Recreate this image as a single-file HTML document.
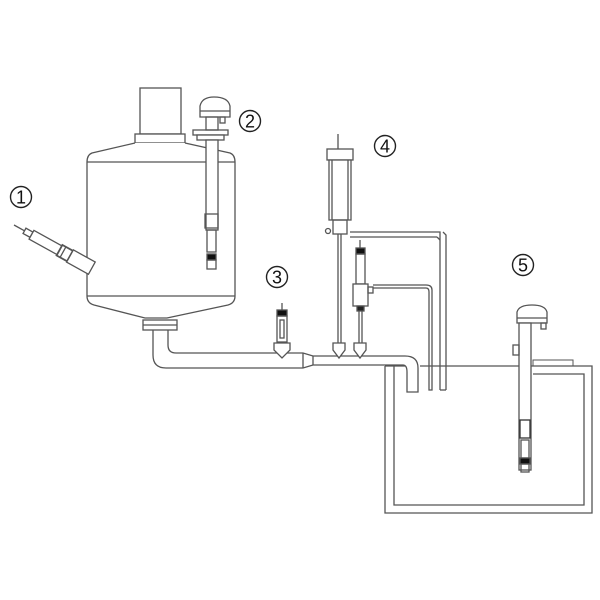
<!DOCTYPE html>
<html><head><style>body{margin:0;background:#fff}svg{display:block}text{font-family:"Liberation Sans","DejaVu Sans",sans-serif;font-size:18px;fill:#111;stroke:none}</style></head><body>
<svg width="600" height="600" viewBox="0 0 600 600" xmlns="http://www.w3.org/2000/svg" fill="none" stroke="#555" stroke-width="1.3">
<!-- tank -->
<rect x="140" y="88" width="41" height="46" fill="#fff"/>
<rect x="135" y="134" width="50" height="9" fill="#fff"/>
<path d="M135 143 L92 153 Q87 155 87 162 L87 296 Q87 303 94 305 L145 318 L167 318 L228 305 Q235 303 235 296 L235 162 Q235 155 230 153 L185 143" fill="#fff"/>
<line x1="87" y1="162" x2="235" y2="162"/><line x1="87" y1="296" x2="235" y2="296"/>
<rect x="143" y="320" width="34" height="10"/><line x1="143" y1="325" x2="177" y2="325"/>
<!-- pipe -->
<path d="M153 330 L153 355 Q153 368 166 368 L303 368 L313 365 L403 365 Q407 365 407 372 L407 392 L418 392 L418 368 Q418 356 405 356 L313 356 L303 353 L176 353 Q168 353 168 345 L168 330"/>
<line x1="303" y1="353" x2="303" y2="368"/><line x1="313" y1="356" x2="313" y2="365"/>
<!-- sensor 3 -->
<line x1="282" y1="303" x2="282" y2="310"/>
<rect x="277" y="310" width="10" height="6" fill="#111"/>
<rect x="277" y="316" width="10" height="26"/><rect x="280" y="320" width="4" height="18"/>
<path d="M274 343 L290 343 L290 350 L282 358 L274 350 Z" fill="#fff"/>
<!-- sensor at 338 (item 4) -->
<line x1="338" y1="134" x2="338" y2="149"/>
<rect x="327" y="149" width="26" height="11" fill="#fff"/>
<rect x="329" y="160" width="22" height="60" fill="#fff"/>
<line x1="332" y1="160" x2="332" y2="220"/><line x1="348" y1="160" x2="348" y2="220"/>
<rect x="333" y="220" width="14" height="14"/>
<circle cx="328" cy="231" r="2.5"/>
<line x1="338" y1="234" x2="338" y2="343"/><line x1="341" y1="234" x2="341" y2="343"/>
<path d="M333 343 L345 343 L345 350 L339 358 L333 350 Z" fill="#fff"/>
<path d="M350 232 L440 232 L440 390 M350 237 L437 237"/>
<path d="M443 232 L446 235 L446 390 M437 237 L440 240"/>
<line x1="440" y1="390" x2="446" y2="390"/>
<!-- sensor at 360 -->
<line x1="360" y1="240" x2="360" y2="248"/>
<rect x="356" y="248" width="9" height="6" fill="#111"/>
<rect x="356" y="254" width="9" height="30"/>
<rect x="353" y="284" width="15" height="22" fill="#fff"/>
<rect x="368" y="287" width="5" height="6"/>
<rect x="357" y="306" width="7" height="5" fill="#222"/>
<line x1="359" y1="311" x2="359" y2="343"/><line x1="362" y1="311" x2="362" y2="343"/>
<path d="M354 343 L366 343 L366 350 L360 358 L354 350 Z" fill="#fff"/>
<path d="M373 288 L426 288 Q429 288 429 292 L429 390 L432 390 L432 290 Q432 285 426 285 L373 285"/>
<!-- open tank -->
<path d="M385 366 L385 513 L592 513 L592 366 L533 366"/>
<path d="M394 366 L394 505 L584 505 L584 374 L533 374"/>
<line x1="385" y1="366" x2="405" y2="366"/><line x1="420" y1="366" x2="533" y2="366"/>
<rect x="533" y="360" width="40" height="6" stroke-width="1"/>
<!-- sensor 5 -->
<path d="M517 323 L517 312 Q519 305 532 305 Q545 305 547 312 L547 323 Z" fill="#fff"/>
<line x1="517" y1="318" x2="547" y2="318"/>
<rect x="541" y="323" width="5" height="6"/>
<rect x="519" y="323" width="12" height="147" fill="#fff"/>
<rect x="513" y="345" width="6" height="10"/>
<rect x="520" y="420" width="10" height="18" stroke="#333"/>
<rect x="521" y="440" width="8" height="18"/>
<rect x="520" y="458" width="10" height="6" fill="#111"/>
<rect x="521" y="464" width="8" height="8"/>
<!-- sensor 2 -->
<path d="M200 117 L200 106 Q202 97 214 97 Q228 97 230 106 L230 117 Z" fill="#fff"/>
<line x1="200" y1="111" x2="230" y2="111"/>
<rect x="220" y="117" width="5" height="6"/>
<rect x="193" y="130" width="35" height="5" fill="#fff"/><rect x="197" y="135" width="27" height="5" fill="#fff"/>
<rect x="206" y="117" width="12" height="13"/>
<rect x="206" y="140" width="12" height="90" fill="#fff"/>
<rect x="205" y="214" width="13" height="14"/>
<rect x="207" y="230" width="9" height="22"/>
<rect x="207" y="254" width="9" height="6" fill="#111"/>
<rect x="207" y="260" width="9" height="9"/>
<!-- probe 1 -->
<g transform="translate(14,225) rotate(29)">
<line x1="0" y1="0" x2="12" y2="0"/>
<rect x="12" y="-3" width="8" height="6"/>
<rect x="20" y="-5" width="32" height="10" fill="#fff"/>
<rect x="52" y="-6" width="12" height="12" fill="#fff" stroke-width="1.8"/>
<line x1="56" y1="-6" x2="56" y2="6"/>
<rect x="64" y="-7" width="25" height="14" fill="#fff"/>
</g>
<!-- labels -->
<g stroke="#222" stroke-width="1.4">
<circle cx="21" cy="197" r="10.5"/><circle cx="250" cy="121" r="10.5"/><circle cx="277" cy="277" r="10.5"/><circle cx="385" cy="146" r="10.5"/><circle cx="523" cy="265" r="10.5"/>
</g>
<g text-anchor="middle">
<text x="21" y="203.5">1</text><text x="250" y="127.5">2</text><text x="277" y="283.5">3</text><text x="385" y="152.5">4</text><text x="523" y="271.5">5</text>
</g>
</svg>
</body></html>
